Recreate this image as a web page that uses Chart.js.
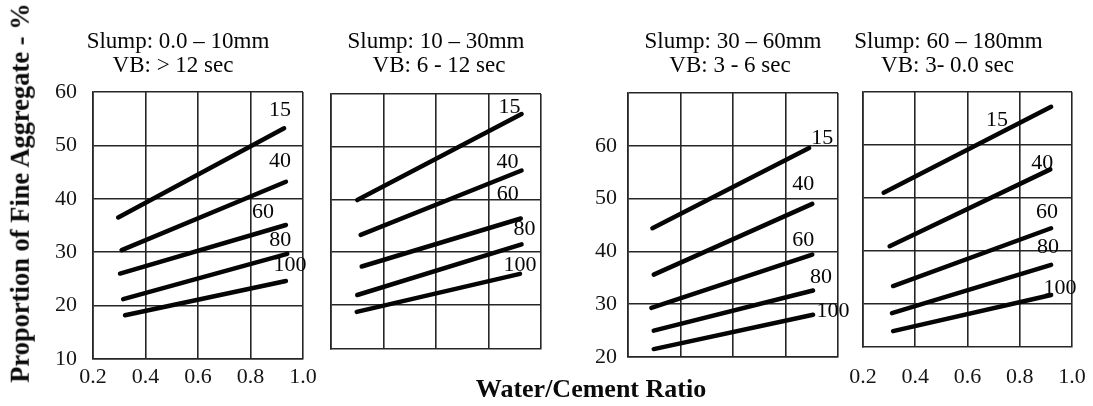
<!DOCTYPE html>
<html>
<head>
<meta charset="utf-8">
<title>Proportion of fine aggregate vs water/cement ratio</title>
<script src="https://cdn.jsdelivr.net/npm/chart.js@4.4.1/dist/chart.umd.min.js"></script>
<style>
  html, body { margin: 0; padding: 0; background: #ffffff; }
  #wrap { position: relative; width: 1093px; height: 406px; overflow: hidden; background: #ffffff; }
  #wrap canvas { position: absolute; left: 0; top: 0; }
  .axis-title {
    position: absolute;
    font-family: 'Liberation Serif', 'Times New Roman', serif;
    font-weight: bold;
    color: #0a0a0a;
    white-space: nowrap;
    line-height: 1;
  }
  #ytitle { left: 20px; top: 193px; font-size: 26.5px; transform: translate(-50%, -50%) rotate(-90deg); }
  #xtitle { left: 591px; top: 376px; font-size: 26px; transform: translateX(-50%); }
</style>
</head>
<body>
<div id="wrap">
  <canvas id="p1" width="1093" height="406"></canvas>
  <canvas id="p2" width="1093" height="406"></canvas>
  <canvas id="p3" width="1093" height="406"></canvas>
  <canvas id="p4" width="1093" height="406"></canvas>
  <div class="axis-title" id="ytitle">Proportion of Fine Aggregate - %</div>
  <div class="axis-title" id="xtitle">Water/Cement Ratio</div>
</div>
<script>
// Curves: percentage passing the 600 µm sieve
const curveLabels = ['15', '40', '60', '80', '100'];

// Axis ticks
const xTickValues = [0.2, 0.4, 0.6, 0.8, 1.0];
const xTickLabels = ['0.2', '0.4', '0.6', '0.8', '1.0'];
const yTicksLow = [10, 20, 30, 40, 50, 60];
const yTickLabelsLow = ['10', '20', '30', '40', '50', '60'];
const yTicksHigh = [20, 30, 40, 50, 60, 70];
const yTickLabelsHigh = ['20', '30', '40', '50', '60', ''];

// Panel headings (workability classes)
const headP1 = ['Slump: 0.0 – 10mm', 'VB: > 12 sec'];
const headP2 = ['Slump: 10 – 30mm', 'VB: 6 - 12 sec'];
const headP3 = ['Slump: 30 – 60mm', 'VB: 3 - 6 sec'];
const headP4 = ['Slump: 60 – 180mm', 'VB: 3- 0.0 sec'];

// Water/cement ratio at the start and end of each curve
const wcP1 = [[0.296, 0.928], [0.309, 0.935], [0.303, 0.935], [0.315, 0.940], [0.322, 0.935]];
const wcP2 = [[0.300, 0.926], [0.313, 0.926], [0.317, 0.923], [0.300, 0.926], [0.298, 0.920]];
const wcP3 = [[0.293, 0.890], [0.298, 0.902], [0.289, 0.902], [0.298, 0.905], [0.298, 0.905]];
const wcP4 = [[0.279, 0.920], [0.302, 0.917], [0.315, 0.920], [0.311, 0.920], [0.315, 0.920]];

// Proportion of fine aggregate (%) at the start and end of each curve
const fineP1 = [[36.5, 53.2], [30.4, 43.2], [26.0, 35.1], [21.2, 29.7], [18.2, 24.6]];
const fineP2 = [[39.9, 56.2], [33.3, 45.5], [27.3, 36.4], [21.9, 31.5], [18.7, 25.9]];
const fineP3 = [[44.4, 59.6], [35.6, 49.0], [29.3, 39.4], [25.0, 32.6], [21.5, 28.0]];
const fineP4 = [[51.0, 67.2], [40.9, 55.4], [33.4, 44.3], [28.3, 37.4], [24.9, 31.7]];

const W = 1093, H = 406;
const FONT = "'Liberation Serif', 'Times New Roman', serif";
const GRID = '#262626';
const INK = '#050505';

// Layout of each panel: plot box on the page, axis ranges, label placement
const panels = [
  { id: 'p1', wc: wcP1, fine: fineP1, head: headP1, headDx: [-20, -25],
    box: { l: 93, r: 303, t: 92, b: 359 },
    y: { min: 10, max: 60, ticks: yTicksLow, labels: yTickLabelsLow, show: true, width: 60, pad: 16 },
    x: { show: true, height: 45, pad: 5, lineHeight: 1.2 },
    tags: [[-4, -18], [-6, -20], [-23, -13], [-7, -14], [4, -16]] },
  { id: 'p2', wc: wcP2, fine: fineP2, head: headP2, headDx: [0, 3],
    box: { l: 331, r: 541, t: 94, b: 349 },
    y: { min: 11.66, max: 60, ticks: yTicksLow, labels: yTickLabelsLow, show: false, width: 0, pad: 0 },
    x: { show: false, height: 0, pad: 0, lineHeight: 1.2 },
    tags: [[-12, -7], [-14, -8], [-13, -24], [3, -15], [0, -9]] },
  { id: 'p3', wc: wcP3, fine: fineP3, head: headP3, headDx: [0, -3],
    box: { l: 628, r: 838, t: 93, b: 357 },
    y: { min: 20, max: 70, ticks: yTicksHigh, labels: yTickLabelsHigh, show: true, width: 50, pad: 11 },
    x: { show: false, height: 0, pad: 0, lineHeight: 1.2 },
    tags: [[13, -10], [-9, -20], [-9, -14], [8, -13], [20, -4]] },
  { id: 'p4', wc: wcP4, fine: fineP4, head: headP4, headDx: [-19, -20],
    box: { l: 863, r: 1072, t: 92, b: 347 },
    y: { min: 21.9, max: 70, ticks: yTicksHigh, labels: yTickLabelsHigh, show: false, width: 0, pad: 0 },
    x: { show: true, height: 55, pad: 5, lineHeight: 2.3 },
    tags: [[-54, 13], [-8, -6], [-4, -16], [-3, -18], [9, -7]] }
];

const HEAD_BASELINES = [48, 72];

// Draws the panel heading and the curve numbers next to each line end
const annotate = {
  id: 'annotate',
  afterDatasetsDraw(chart) {
    const p = chart.config.options.panel;
    const ctx = chart.ctx;
    const area = chart.chartArea;
    ctx.save();
    ctx.fillStyle = INK;
    ctx.font = '23px ' + FONT;
    ctx.textAlign = 'center';
    ctx.textBaseline = 'alphabetic';
    const cx = (area.left + area.right) / 2;
    p.head.forEach((line, i) => ctx.fillText(line, cx + p.headDx[i], HEAD_BASELINES[i]));
    ctx.font = '22px ' + FONT;
    ctx.textBaseline = 'middle';
    curveLabels.forEach((lab, k) => {
      const pts = chart.getDatasetMeta(k).data;
      const end = pts[pts.length - 1];
      ctx.fillText(lab, end.x + p.tags[k][0], end.y + p.tags[k][1]);
    });
    ctx.restore();
  }
};

function buildPanel(p) {
  const yW = p.y.show ? p.y.width : 0;
  const xH = p.x.show ? p.x.height : 0;
  const yTicks = p.y.ticks.filter(v => v >= p.y.min && v <= p.y.max);
  const yLabels = p.y.labels.filter((_, i) => p.y.ticks[i] >= p.y.min && p.y.ticks[i] <= p.y.max);
  return new Chart(document.getElementById(p.id), {
    type: 'line',
    data: {
      datasets: curveLabels.map((lab, k) => ({
        label: lab,
        data: p.wc[k].map((x, j) => ({ x: x, y: p.fine[k][j] })),
        borderColor: INK,
        borderWidth: 4.5,
        borderCapStyle: 'round',
        pointRadius: 0,
        tension: 0,
        fill: false
      }))
    },
    options: {
      panel: p,
      responsive: false,
      animation: false,
      devicePixelRatio: 1,
      layout: { padding: { left: p.box.l - yW, top: p.box.t, right: W - p.box.r, bottom: H - p.box.b - xH } },
      plugins: { legend: { display: false }, tooltip: { enabled: false }, title: { display: false } },
      scales: {
        x: {
          type: 'linear', min: 0.2, max: 1.0,
          afterBuildTicks: s => { s.ticks = xTickValues.map(v => ({ value: v })); },
          afterFit: s => { s.height = xH; },
          grid: { color: GRID, lineWidth: 1.6, drawTicks: false },
          border: { color: GRID, width: 1.6 },
          ticks: {
            display: p.x.show, padding: p.x.pad, autoSkip: false, maxRotation: 0, minRotation: 0,
            color: '#151515', font: { family: FONT, size: 22, lineHeight: p.x.lineHeight },
            callback: (v, i) => xTickLabels[i]
          }
        },
        y: {
          type: 'linear', min: p.y.min, max: p.y.max,
          afterBuildTicks: s => { s.ticks = yTicks.map(v => ({ value: v })); },
          afterFit: s => { s.width = yW; },
          grid: { color: GRID, lineWidth: 1.6, drawTicks: false },
          border: { color: GRID, width: 1.6 },
          ticks: {
            display: p.y.show, padding: p.y.pad, autoSkip: false,
            color: '#151515', font: { family: FONT, size: 22 },
            callback: (v, i) => yLabels[i]
          }
        }
      }
    },
    plugins: [annotate]
  });
}

panels.forEach(buildPanel);
</script>
</body>
</html>
